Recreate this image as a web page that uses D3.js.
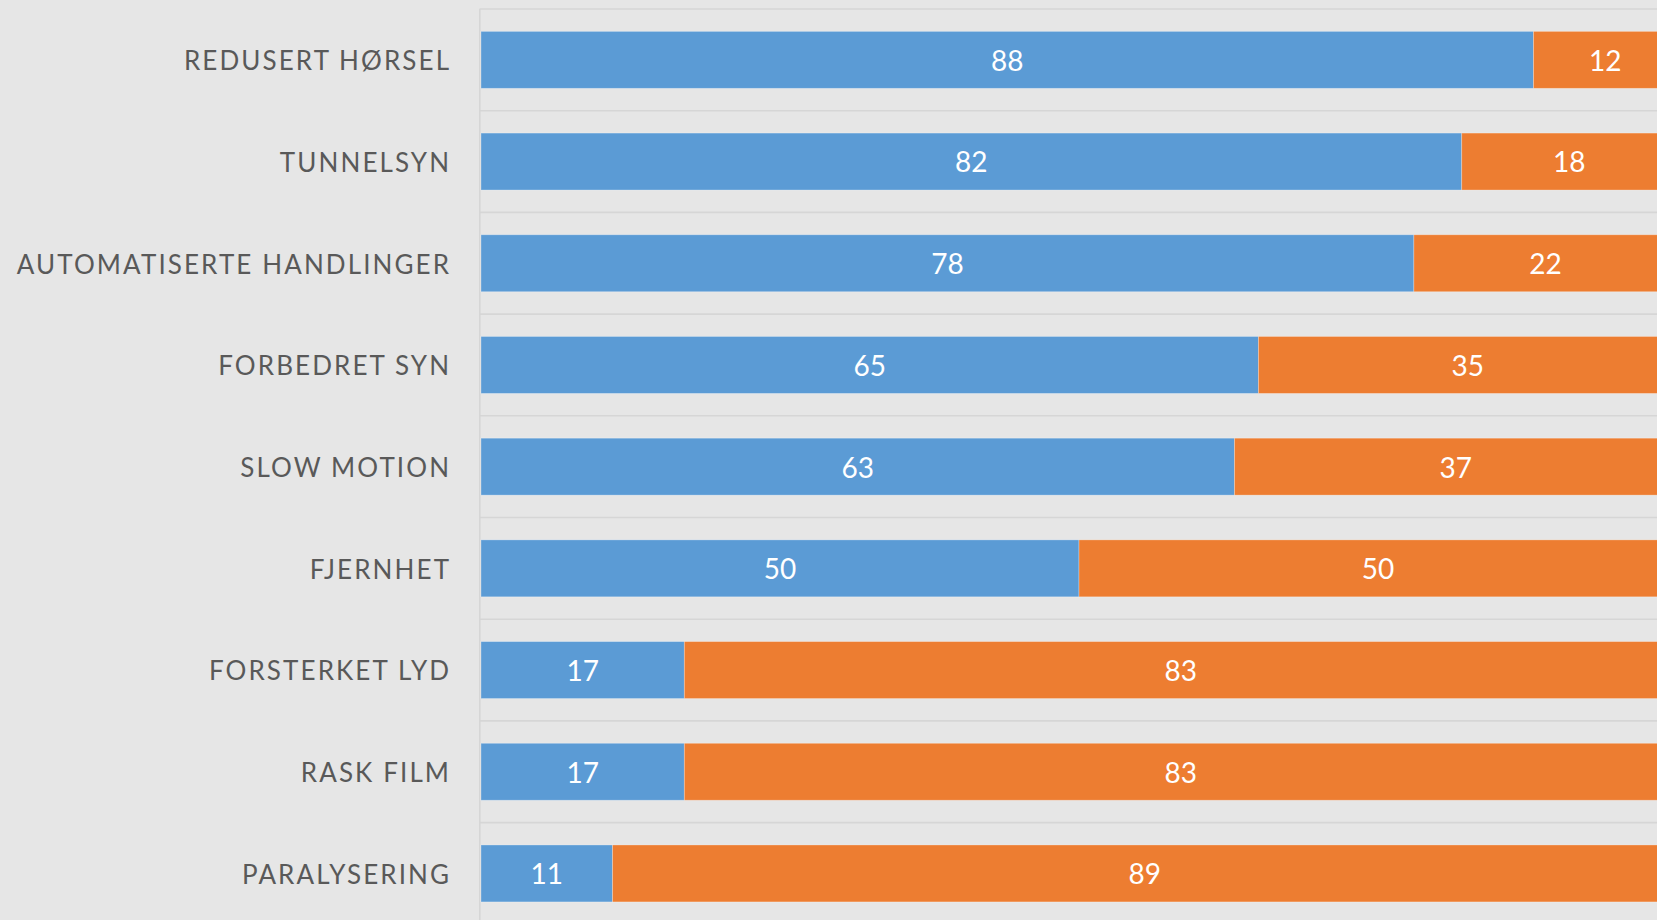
<!DOCTYPE html>
<html>
<head>
<meta charset="utf-8">
<script src="https://cdn.jsdelivr.net/npm/d3@7"></script>
<style>
  html, body { margin: 0; padding: 0; background: #e6e6e6; overflow: hidden; }
  #container { width: 1657px; height: 920px; position: relative; }
</style>
</head>
<body>
<div id="container"></div>
<script>
// categories top to bottom
const categories = ["REDUSERT HØRSEL", "TUNNELSYN", "AUTOMATISERTE HANDLINGER", "FORBEDRET SYN",
                    "SLOW MOTION", "FJERNHET", "FORSTERKET LYD", "RASK FILM", "PARALYSERING"];
const blueValues   = [88, 82, 78, 65, 63, 50, 17, 17, 11];
const orangeValues = [12, 18, 22, 35, 37, 50, 83, 83, 89];
const seriesColors = ["#5b9bd5", "#ed7d31"];

const container = d3.select("#container");
const width = 1657;
const height = 920;
// plot runs past the right and bottom edge of the picture (it is cropped)
const margin = { top: 9, left: 481 };
const plotWidth = 1196;
const step = 101.7;
const spacing = 2.1;

const svg = container.append("svg")
                     .attr("width", width)
                     .attr("height", height);

svg.append("rect")
   .attr("width", width)
   .attr("height", height)
   .attr("fill", "#e6e6e6");

const xScale = d3.scaleLinear().domain([0, 100]).range([margin.left, margin.left + plotWidth]);
const yScale = d3.scaleBand()
                 .domain(categories)
                 .range([margin.top, margin.top + step * categories.length])
                 .paddingInner(0.44)
                 .paddingOuter(0.22);

const data = categories.map((c, i) => ({ cat: c, a: blueValues[i], b: orangeValues[i] }));
const stacked = d3.stack().keys(["a", "b"])(data);

// horizontal gridlines between the categories
const bounds = d3.range(categories.length + 1).map(i => yScale.range()[0] + i * yScale.step());
svg.append("g")
   .selectAll("line")
   .data(bounds)
   .join("line")
   .attr("x1", margin.left - 1.5)
   .attr("x2", width)
   .attr("y1", d => d)
   .attr("y2", d => d)
   .attr("stroke", "#d6d6d6")
   .attr("stroke-width", 1.6);

// left axis line
svg.append("line")
   .attr("x1", margin.left - 1.2)
   .attr("x2", margin.left - 1.2)
   .attr("y1", margin.top)
   .attr("y2", height)
   .attr("stroke", "#d6d6d6")
   .attr("stroke-width", 1.6);

const layers = svg.append("g")
                  .selectAll("g")
                  .data(stacked)
                  .join("g")
                  .attr("fill", (d, i) => seriesColors[i]);

layers.selectAll("rect")
      .data(d => d)
      .join("rect")
      .attr("x", d => xScale(d[0]))
      .attr("width", d => xScale(d[1]) - xScale(d[0]))
      .attr("y", d => yScale(d.data.cat))
      .attr("height", yScale.bandwidth())
      .attr("stroke", "rgba(255,255,255,0.35)")
      .attr("stroke-width", 0.8);

// value labels
layers.selectAll("text")
      .data(d => d)
      .join("text")
      .attr("x", d => (xScale(d[0]) + xScale(d[1])) / 2)
      .attr("y", d => yScale(d.data.cat) + yScale.bandwidth() / 2)
      .attr("dy", "0.39em")
      .attr("text-anchor", "middle")
      .attr("fill", "white")
      .style("font-family", "Lato, 'Open Sans', sans-serif")
      .style("font-size", "28px")
      .text(d => d[1] - d[0]);

// category labels
svg.append("g")
   .selectAll("text")
   .data(categories)
   .join("text")
   .attr("x", 449 + spacing)
   .attr("y", d => yScale(d) + yScale.bandwidth() / 2)
   .attr("dy", "0.4em")
   .attr("text-anchor", "end")
   .attr("fill", "#595959")
   .style("font-family", "Lato, 'Open Sans', sans-serif")
   .style("font-size", "26px")
   .style("letter-spacing", spacing + "px")
   .text(d => d);
</script>
</body>
</html>
